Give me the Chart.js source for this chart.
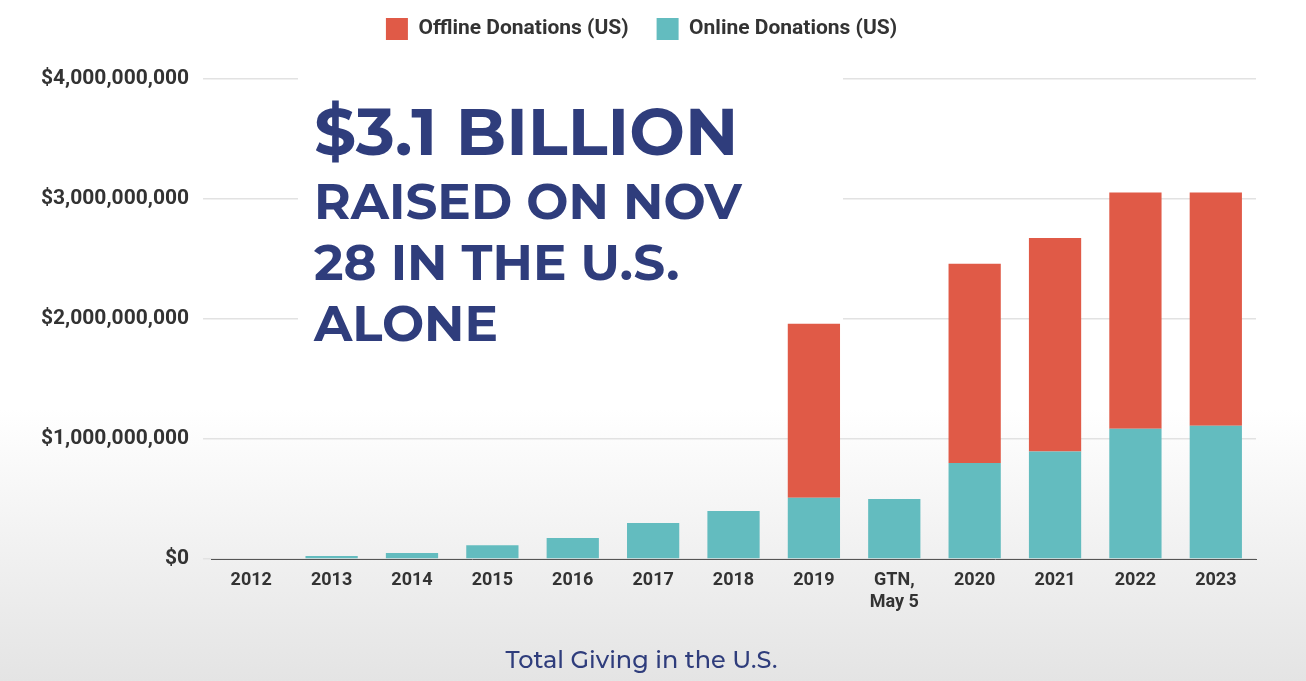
<!DOCTYPE html>
<html>
<head>
<script src="https://cdn.jsdelivr.net/npm/chart.js@4.4.1/dist/chart.umd.min.js"></script>
<style>
body{margin:0;background:linear-gradient(#fff 0%,#fff 60%,#e4e4e4 100%);}
#wrap{width:1306px;height:681px;}
</style>
</head>
<body>
<div id="wrap"><canvas id="myChart"></canvas></div>
<script>
var annees = [["2012"],["2013"],["2014"],["2015"],["2016"],["2017"],["2018"],["2019"],["GTN,","May 5"],["2020"],["2021"],["2022"],["2023"]];
var offline = [0,0,0,0,0,0,0,1450000000,0,1660000000,1780000000,1970000000,1945000000];
var online = [0,25000000,50000000,115000000,175000000,300000000,400000000,510000000,500000000,800000000,895000000,1085000000,1110000000];
var titreOverlay = ["$3.1 BILLION","RAISED ON NOV","28 IN THE U.S.","ALONE"];

var overlay = {
    id: 'overlay',
    beforeInit: function(chart){
        var fitOrig = chart.legend.fit;
        chart.legend.fit = function(){
            fitOrig.bind(chart.legend)();
            this.height += 29;
        };
    },
    beforeDatasetsDraw: function(chart){
        var c = chart.ctx;
        c.save();
        c.fillStyle = '#fff';
        c.fillRect(298, 70, 545, 290);
        c.restore();
    },
    afterDraw: function(chart){
        var c = chart.ctx;
        c.save();
        c.fillStyle = '#2f3d7c';
        c.textBaseline = 'alphabetic';
        c.font = 'bold 66px Montserrat, "Open Sans", sans-serif';
        c.fillText(titreOverlay[0], 314, 155);
        c.font = 'bold 50px Montserrat, "Open Sans", sans-serif';
        c.fillText(titreOverlay[1], 314, 219);
        c.fillText(titreOverlay[2], 314, 280);
        c.fillText(titreOverlay[3], 314, 341);
        c.restore();
    }
};

var ctx = document.getElementById("myChart");
var myChart = new Chart(ctx, {
    type: 'bar',
    data: {
        labels: annees,
        datasets: [{
            label: 'Online Donations (US)',
            data: online,
            backgroundColor: '#63bcbf',
            stack: 's'
        },{
            label: 'Offline Donations (US)',
            data: offline,
            backgroundColor: '#e05a47',
            stack: 's'
        }]
    },
    options: {
        responsive: true,
        maintainAspectRatio: false,
        animation: false,
        layout: {padding: {left: 27, right: 50, top: -10, bottom: 6}},
        datasets: {bar: {categoryPercentage: 1, barPercentage: 0.65}},
        plugins: {
            legend: {
                position: 'top',
                reverse: true,
                labels: {
                    boxWidth: 22, boxHeight: 22, padding: 28,
                    color: '#333',
                    font: {size: 21, weight: 'bold', family: 'Roboto'}
                }
            },
            title: {
                display: true,
                position: 'bottom',
                text: 'Total Giving in the U.S.',
                color: '#2f3d7c',
                font: {size: 24, weight: '500', family: 'Montserrat, "Open Sans", sans-serif'},
                padding: {top: 30, bottom: 0}
            },
            tooltip: {enabled: false}
        },
        scales: {
            x: {
                stacked: true,
                grid: {display: false},
                border: {color: '#555'},
                ticks: {color: '#333', font: {size: 18, weight: 'bold', family: 'Roboto'}}
            },
            y: {
                stacked: true,
                min: 0, max: 4000000000,
                grid: {color: '#e2e2e2', lineWidth: 1.5},
                border: {display: false},
                ticks: {
                    stepSize: 1000000000,
                    padding: 14,
                    color: '#333',
                    font: {size: 21, weight: 'bold', family: 'Roboto'},
                    callback: function(v){ return '$' + v.toLocaleString('en-US'); }
                }
            }
        }
    },
    plugins: [overlay]
});
</script>
</body>
</html>
